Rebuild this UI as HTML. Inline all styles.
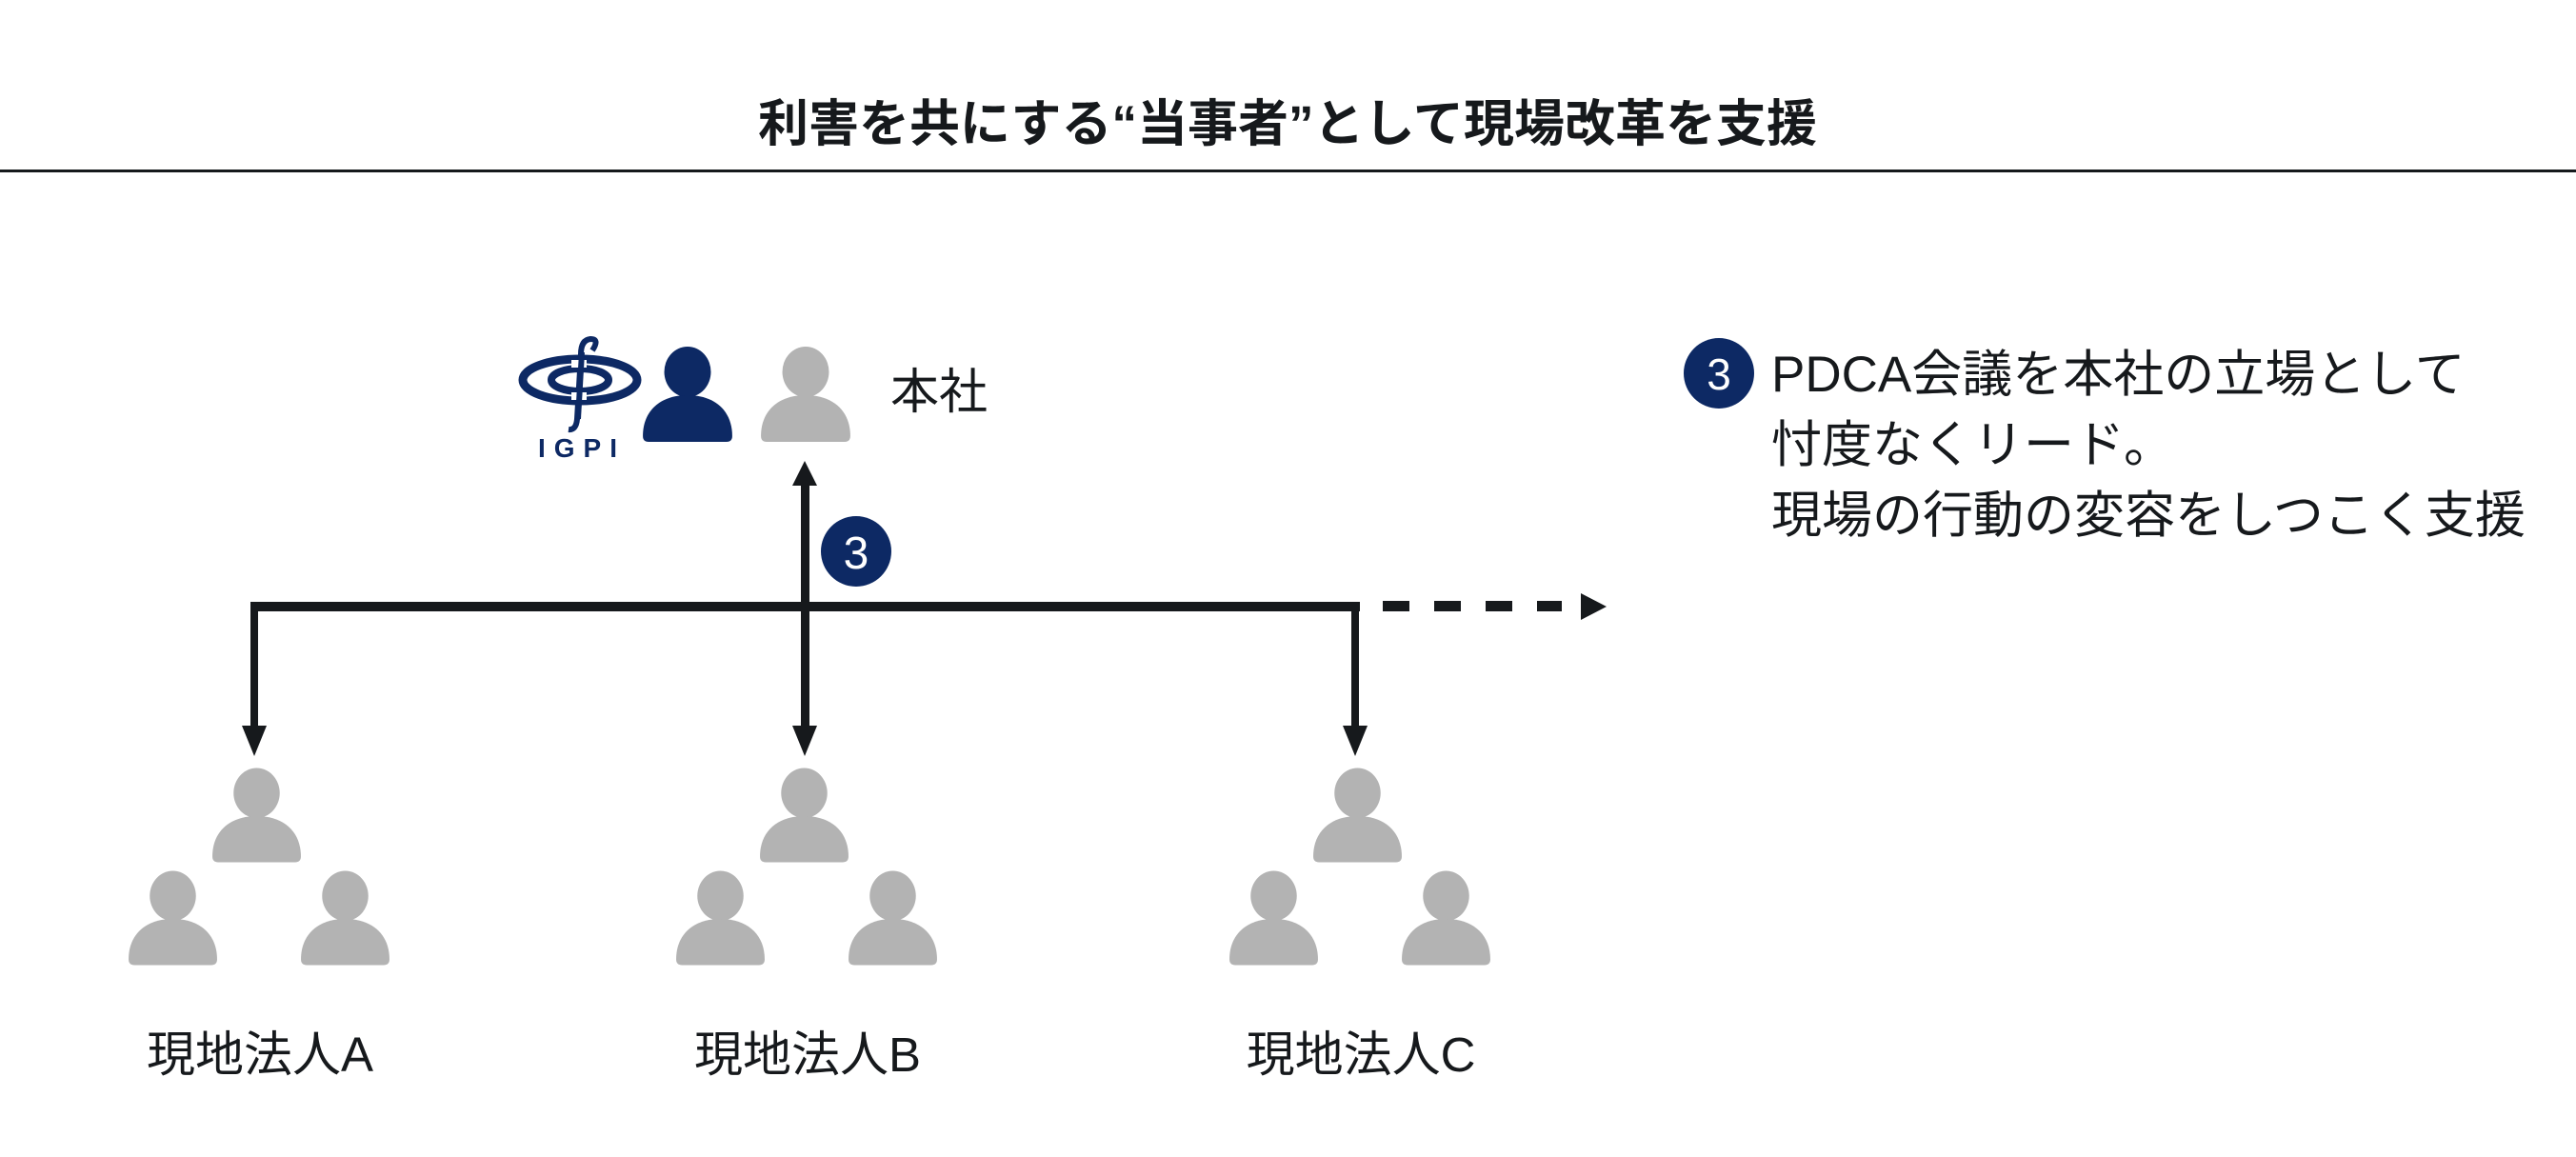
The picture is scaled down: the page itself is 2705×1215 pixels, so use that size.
<!DOCTYPE html>
<html><head><meta charset="utf-8"><style>
html,body{margin:0;padding:0;background:#fff;}
svg{display:block;}
text{font-family:"Liberation Sans","Noto Sans CJK JP",sans-serif;fill:#16191c;}
</style></head><body>
<svg width="2705" height="1215" viewBox="0 0 2705 1215" xmlns="http://www.w3.org/2000/svg">
<defs>
<symbol id="p" viewBox="0 0 100 100">
<ellipse cx="50" cy="26" rx="24" ry="26"/>
<path d="M4,92 C4,66 22,50 50,50 C78,50 96,66 96,92 Q96,98 90,98 L10,98 Q4,98 4,92 Z"/>
</symbol>
</defs>
<text x="1352" y="148" font-size="53" font-weight="bold" text-anchor="middle">利害を共にする“当事者”として現場改革を支援</text>
<rect x="0" y="178" width="2705" height="3" fill="#16191c"/>

<!-- IGPI logo -->
<g fill="#0d2964">
<ellipse cx="609" cy="399" rx="60" ry="22" fill="none" stroke="#0d2964" stroke-width="9"/>
<ellipse cx="609" cy="399" rx="30" ry="12" fill="none" stroke="#0d2964" stroke-width="8"/>
<path d="M622,368 Q630,356 620,356 Q610,357 610,372 L606,440 Q605,452 597,451" fill="none" stroke="#0d2964" stroke-width="6"/>
<rect x="600" y="378" width="16" height="8" fill="#fff"/>
<rect x="600" y="412" width="16" height="8" fill="#fff"/>
<path d="M611,370 L607,440" stroke="#0d2964" stroke-width="6"/>
<text x="611" y="480" font-size="28" font-weight="bold" text-anchor="middle" letter-spacing="9" style="fill:#0d2964">IGPI</text>
</g>
<use href="#p" x="670" y="364" width="104" height="102" fill="#0d2964"/>
<use href="#p" x="794" y="364" width="104" height="102" fill="#b3b3b3"/>
<text x="935" y="429" font-size="51">本社</text>

<!-- connectors -->
<g fill="#16191c">
<rect x="841" y="508" width="9" height="262"/>
<polygon points="845,484 832,510 858,510"/>
<rect x="263" y="632" width="1165" height="10"/>
<rect x="263" y="632" width="8" height="140"/>
<rect x="841" y="632" width="8" height="140"/>
<rect x="1419" y="632" width="8" height="140"/>
<polygon points="254,762 280,762 267,794"/>
<polygon points="832,762 858,762 845,794"/>
<polygon points="1410,762 1436,762 1423,794"/>
<rect x="1452" y="631" width="28" height="11"/>
<rect x="1506" y="631" width="28" height="11"/>
<rect x="1560" y="631" width="28" height="11"/>
<rect x="1614" y="631" width="26" height="11"/>
<polygon points="1660,623 1687,637 1660,651"/>
</g>
<circle cx="899" cy="579" r="37" fill="#0d2964"/>
<text x="899" y="597" font-size="48" text-anchor="middle" style="fill:#fff">3</text>

<!-- groups -->
<g fill="#b3b3b3">
<use href="#p" x="219" y="806" width="101" height="102"/>
<use href="#p" x="131" y="914" width="101" height="102"/>
<use href="#p" x="312" y="914" width="101" height="102"/>
<use href="#p" x="794" y="806" width="101" height="102"/>
<use href="#p" x="706" y="914" width="101" height="102"/>
<use href="#p" x="887" y="914" width="101" height="102"/>
<use href="#p" x="1375" y="806" width="101" height="102"/>
<use href="#p" x="1287" y="914" width="101" height="102"/>
<use href="#p" x="1468" y="914" width="101" height="102"/>
</g>
<text x="273" y="1125" font-size="51" text-anchor="middle">現地法人A</text>
<text x="848" y="1125" font-size="51" text-anchor="middle">現地法人B</text>
<text x="1429" y="1125" font-size="51" text-anchor="middle">現地法人C</text>

<!-- right text -->
<circle cx="1805" cy="392" r="37" fill="#0d2964"/>
<text x="1805" y="409" font-size="46" text-anchor="middle" style="fill:#fff">3</text>
<text x="1860" y="411" font-size="53">PDCA会議を本社の立場として</text>
<text x="1860" y="485" font-size="53">忖度なくリード。</text>
<text x="1860" y="559" font-size="53">現場の行動の変容をしつこく支援</text>
</svg>
</body></html>
